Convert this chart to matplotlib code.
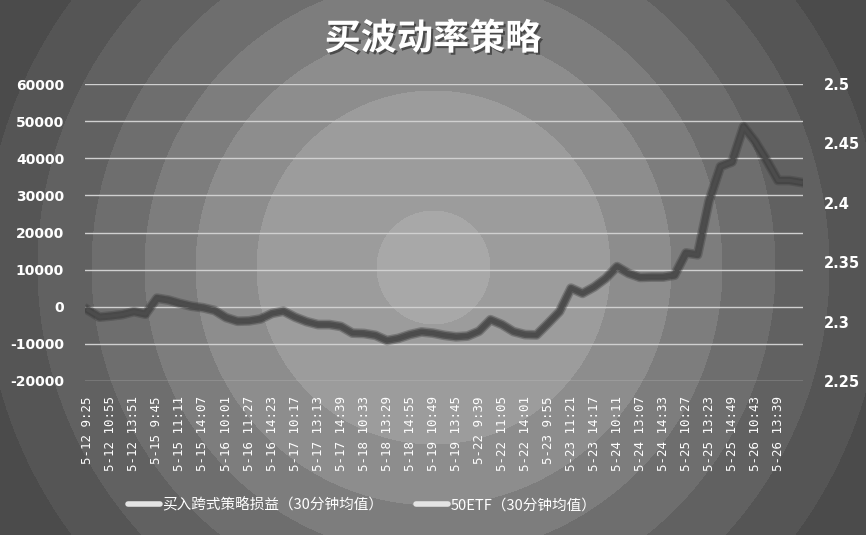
import numpy as np
import matplotlib
matplotlib.use('Agg')
import matplotlib.pyplot as plt
import matplotlib.patheffects as pe
from matplotlib.lines import Line2D

plt.rcParams['font.family'] = ['Noto Sans CJK SC', 'DejaVu Sans']
plt.rcParams['axes.unicode_minus'] = False

# x tick labels (one every 86 minutes of 30-min averaged data)
tick_labels = ['5-12 9:25', '5-12 10:55', '5-12 13:51', '5-15 9:45', '5-15 11:11',
               '5-15 14:07', '5-16 10:01', '5-16 11:27', '5-16 14:23', '5-17 10:17',
               '5-17 13:13', '5-17 14:39', '5-18 10:33', '5-18 13:29', '5-18 14:55',
               '5-19 10:49', '5-19 13:45', '5-22 9:39', '5-22 11:05', '5-22 14:01',
               '5-23 9:55', '5-23 11:21', '5-23 14:17', '5-24 10:11', '5-24 13:07',
               '5-24 14:33', '5-25 10:27', '5-25 13:23', '5-25 14:49', '5-26 10:43',
               '5-26 13:39']

# straddle P&L, sampled every half tick interval
pnl = [-900, -2800, -2500, -2100, -1300, -2000, 2300, 1800, 900, 150,
       -270, -1000, -2900, -3900, -3800, -3300, -1800, -1200, -2800, -4000,
       -4800, -4800, -5300, -7100, -7200, -7700, -9100, -8500, -7500, -6800,
       -7100, -7700, -8100, -7900, -6600, -3500, -4800, -6700, -7500, -7600,
       -4500, -1300, 5000, 3600, 5300, 7600, 10800, 9000, 7900, 8000,
       8000, 8500, 14500, 14000, 28500, 37800, 39000, 48500, 44500, 39500,
       34000, 34000, 33500]

# 50ETF price, same sampling
etf = [2.3097, 2.3038, 2.3047, 2.3059, 2.3084, 2.3063, 2.3197, 2.3181, 2.3153, 2.3130,
       2.3117, 2.3094, 2.3034, 2.3003, 2.3006, 2.3022, 2.3069, 2.3088, 2.3038, 2.3000,
       2.2975, 2.2975, 2.2959, 2.2903, 2.2900, 2.2884, 2.2841, 2.2859, 2.2891, 2.2913,
       2.2903, 2.2884, 2.2872, 2.2878, 2.2919, 2.3016, 2.2975, 2.2916, 2.2891, 2.2888,
       2.2984, 2.3084, 2.3281, 2.3238, 2.3291, 2.3363, 2.3463, 2.3406, 2.3372, 2.3375,
       2.3375, 2.3391, 2.3578, 2.3563, 2.4016, 2.4306, 2.4344, 2.4641, 2.4516, 2.4359,
       2.4188, 2.4188, 2.4172]

W, H = 866, 535
fig = plt.figure(figsize=(W / 100, H / 100), dpi=100)

# radial banded background
bg = fig.add_axes([0, 0, 1, 1], zorder=-10)
yy, xx = np.mgrid[0:H, 0:W]
r = np.hypot(xx - 433, yy - 267)
edges = [57, 177, 238, 289, 342, 396, 450]
greys = [0xa8, 0x9c, 0x8d, 0x7d, 0x6e, 0x61, 0x55, 0x4b]
band = np.digitize(r, edges)
img = np.array(greys)[band] / 255.0
bg.imshow(np.dstack([img, img, img]), extent=(0, W, H, 0), aspect='auto')
bg.axis('off')

ax = fig.add_axes([85 / W, 1 - 381 / H, 718 / W, 297 / H])
ax.set_facecolor('none')
ax2 = ax.twinx()
ax2.set_facecolor('none')

x = np.arange(len(pnl))
glow = [pe.Stroke(linewidth=7, foreground='#3c3c3c', alpha=0.2),
        pe.Stroke(linewidth=5, foreground='#3c3c3c', alpha=0.35),
        pe.Normal()]
ax.plot(x, pnl, color='#4c4c4c', lw=2.5, path_effects=glow, zorder=3)
ax2.plot(x, etf, color='#4c4c4c', lw=2.5, path_effects=glow, zorder=3)

ax.set_ylim(-20000, 60000)
ax.set_yticks(np.arange(-20000, 60001, 10000))
ax2.set_ylim(2.25, 2.5)
ax2.set_yticks([2.25, 2.3, 2.35, 2.4, 2.45, 2.5])
ax2.set_yticklabels(['2.25', '2.3', '2.35', '2.4', '2.45', '2.5'])
ax.set_xlim(-0.26, len(pnl) - 1 + 0.17)
ax.set_xticks(np.arange(0, 2 * len(tick_labels), 2))
ax.set_xticklabels(tick_labels, rotation=90, family='DejaVu Sans Mono',
                   fontsize=9, color='white')
ax.grid(axis='y', color='#d0d0d0', lw=1)
ax.set_axisbelow(True)

for a in (ax, ax2):
    for s in a.spines.values():
        s.set_visible(False)
    a.tick_params(length=0)
ax.tick_params(axis='x', pad=11)
ax.tick_params(axis='y', pad=15, labelsize=10, labelcolor='white')
ax2.tick_params(axis='y', pad=15, labelsize=10.5, labelcolor='white')
for t in ax.get_yticklabels() + ax2.get_yticklabels():
    t.set_family('DejaVu Sans')
    t.set_fontweight('bold')

fig.text(0.5, 1 - 39 / H, '买波动率策略', ha='center', va='center', fontsize=26,
         fontweight='bold', color='white',
         path_effects=[pe.withSimplePatchShadow(offset=(1.5, -1.5),
                                                shadow_rgbFace='#303030', alpha=0.7)])

handles = [Line2D([], [], color='#e4e4e4', lw=4, solid_capstyle='round'),
           Line2D([], [], color='#e4e4e4', lw=4, solid_capstyle='round')]
leg = fig.legend(handles, ['买入跨式策略损益（30分钟均值）', '50ETF（30分钟均值）'],
                 loc='center', bbox_to_anchor=(362 / W, 1 - 505 / H), ncol=2,
                 frameon=False, fontsize=10.5, handlelength=2.2, handletextpad=0.15,
                 columnspacing=2.3, labelcolor='white')

fig.savefig('out.png', dpi=100)
